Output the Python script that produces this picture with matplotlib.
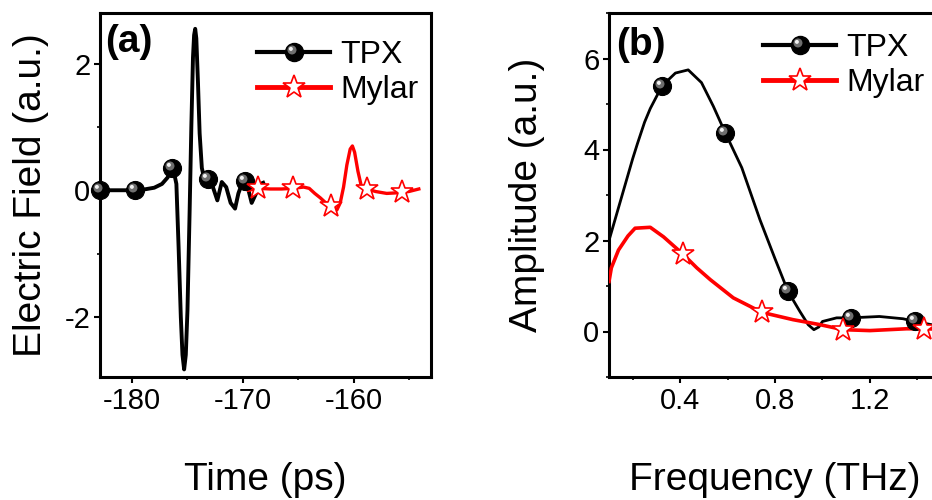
import matplotlib
matplotlib.use("Agg")
import matplotlib.pyplot as plt
from matplotlib.markers import MarkerStyle
from matplotlib.transforms import Affine2D
from matplotlib.legend_handler import HandlerTuple
from matplotlib.ticker import AutoMinorLocator

plt.rcParams['font.family'] = ['Liberation Sans', 'DejaVu Sans']
plt.rcParams['axes.unicode_minus'] = False

# ---------------- data: panel (a) time domain ----------------
tpx_t = [-182.9, -181.5, -180.0, -179.0, -178.0, -177.3, -176.8, -176.4, -176.3,
         -176.0, -175.8, -175.6, -175.45, -175.3, -175.15, -175.0, -174.8,
         -174.65, -174.5, -174.4, -174.3, -174.2, -174.05, -173.9, -173.7,
         -173.5, -173.1, -172.7, -172.3, -171.9, -171.5, -171.1, -170.7,
         -170.4, -170.0, -169.6, -169.2, -168.8, -168.4, -168.0]
tpx_e = [0.0, 0.0, 0.0, 0.01, 0.04, 0.1, 0.2, 0.33, 0.35,
         0.1, -0.9, -2.0, -2.6, -2.83, -2.6, -1.9, -0.3,
         1.0, 2.1, 2.45, 2.55, 2.4, 1.7, 0.9, 0.35,
         0.2, 0.16, 0.05, -0.16, 0.13, 0.05, -0.2, -0.29,
         -0.05, 0.14, 0.08, -0.2, -0.05, 0.1, 0.13]
tpx_mark_t = [-182.9, -179.7, -176.4, -173.1, -169.8]
tpx_mark_e = [0.0, 0.0, 0.35, 0.17, 0.15]

myl_t = [-169.5, -168.6, -167.5, -166.5, -165.5, -164.5, -164.0, -163.5, -163.0,
         -162.5, -162.0, -161.5, -161.2, -160.9, -160.6, -160.3, -160.1, -159.9,
         -159.6, -159.3, -158.8, -158.0, -157.0, -156.0, -155.0, -154.1]
myl_e = [0.0, 0.03, 0.02, 0.02, 0.03, 0.05, 0.03, -0.05, -0.12,
         -0.2, -0.25, -0.31, -0.2, 0.05, 0.4, 0.65, 0.7, 0.6,
         0.3, 0.07, 0.02, -0.02, -0.05, -0.04, -0.02, 0.02]
myl_mark_t = [-168.6, -165.5, -162.0, -158.8, -155.6]
myl_mark_e = [0.03, 0.03, -0.25, 0.02, -0.03]

# ---------------- data: panel (b) frequency domain ----------------
tpx_f = [0.10, 0.15, 0.20, 0.22, 0.25, 0.274, 0.324, 0.38, 0.434, 0.49, 0.54,
         0.59, 0.66, 0.737, 0.80, 0.855, 0.905, 0.94, 0.964, 0.985, 1.0, 1.06,
         1.12, 1.24, 1.34, 1.39, 1.46, 1.5]
tpx_a = [2.0, 2.9, 3.8, 4.13, 4.6, 4.9, 5.4, 5.68, 5.75, 5.47, 4.95,
         4.37, 3.6, 2.45, 1.6, 0.88, 0.44, 0.15, 0.04, 0.1, 0.22, 0.3,
         0.3, 0.33, 0.28, 0.22, 0.15, 0.12]
tpx_mark_f = [0.324, 0.59, 0.855, 1.12, 1.39]
tpx_mark_a = [5.4, 4.37, 0.88, 0.3, 0.22]

myl_f = [0.10, 0.11, 0.14, 0.18, 0.21, 0.274, 0.33, 0.41, 0.47, 0.527, 0.624,
         0.745, 0.876, 0.99, 1.087, 1.2, 1.355, 1.43, 1.5]
myl_a = [1.1, 1.4, 1.79, 2.1, 2.27, 2.29, 2.08, 1.71, 1.4, 1.14, 0.74,
         0.42, 0.26, 0.15, 0.04, 0.02, 0.06, 0.06, 0.05]
myl_mark_f = [0.41, 0.745, 1.087, 1.43]
myl_mark_a = [1.71, 0.42, 0.04, 0.06]

x_ticks_a = [-180, -170, -160]
y_ticks_a = [-2, 0, 2]
x_ticks_b = [0.4, 0.8, 1.2]
y_ticks_b = [0, 2, 4, 6]

# ---------------- styling ----------------
MS = 13
hl1 = MarkerStyle('o', transform=Affine2D().scale(0.5).translate(-0.14, 0.14))
hl2 = MarkerStyle('o', transform=Affine2D().scale(0.22).translate(-0.2, 0.2))

fig = plt.figure(figsize=(9.32, 5.0), dpi=100)
ax1 = fig.add_axes([100/932, 123/500, 331/932, 364/500])
ax2 = fig.add_axes([609/932, 123/500, 332/932, 364/500])


def sphere_series(ax, x, y, mx, my, lw):
    ax.plot(x, y, color='black', lw=lw, solid_capstyle='butt', zorder=3)
    ax.plot(mx, my, ls='none', marker='o', ms=MS, mfc='black', mec='black',
            mew=0.8, zorder=4, clip_on=False)
    m1, = ax.plot(mx, my, ls='none', marker=hl1, ms=MS, mfc='#6e6e6e', mec='none',
                  zorder=5, clip_on=False)
    m2, = ax.plot(mx, my, ls='none', marker=hl2, ms=MS, mfc='#f0f0f0', mec='none',
                  zorder=6, clip_on=False)
    leg_line, = ax.plot([], [], color='black', lw=3, marker='o', ms=MS,
                        mfc='black', mec='black')
    return (leg_line, m1, m2)


def star_series(ax, x, y, mx, my, lw):
    ax.plot(x, y, color='red', lw=lw, zorder=3)
    ax.plot(mx, my, ls='none', marker='*', ms=17, mfc='white', mec='red',
            mew=1.2, zorder=7, clip_on=False)
    leg, = ax.plot([], [], color='red', lw=3.5, marker='*', ms=17, mfc='white',
                   mec='red', mew=1.2)
    return leg


h_tpx_a = sphere_series(ax1, tpx_t, tpx_e, tpx_mark_t, tpx_mark_e, 2.8)
h_myl_a = star_series(ax1, myl_t, myl_e, myl_mark_t, myl_mark_e, 2.4)
h_tpx_b = sphere_series(ax2, tpx_f, tpx_a, tpx_mark_f, tpx_mark_a, 2.0)
h_myl_b = star_series(ax2, myl_f, myl_a, myl_mark_f, myl_mark_a, 2.6)

ax1.set_xlim(-182.9, -153.0)
ax1.set_ylim(-2.95, 2.8)
ax2.set_xlim(0.1, 1.5)
ax2.set_ylim(-1.0, 7.0)

ax1.set_xticks(x_ticks_a)
ax1.set_yticks(y_ticks_a)
ax2.set_xticks(x_ticks_b)
ax2.set_yticks(y_ticks_b)
ax2.set_xticklabels([f"{v:.1f}" for v in x_ticks_b])

for ax in (ax1, ax2):
    for s in ax.spines.values():
        s.set_linewidth(2.2)
    ax.xaxis.set_minor_locator(AutoMinorLocator(2))
    ax.yaxis.set_minor_locator(AutoMinorLocator(2))
    ax.tick_params(which='major', direction='out', length=4, width=1.5,
                   labelsize=21, pad=3)
    ax.tick_params(which='minor', direction='out', length=2.5, width=1.2)

ax1.set_xlabel('Time (ps)', fontsize=28)
ax2.set_xlabel('Frequency (THz)', fontsize=28)
ax1.set_ylabel('Electric Field (a.u.)', fontsize=28)
ax2.set_ylabel('Amplitude (a.u.)', fontsize=28)
for ax in (ax1, ax2):
    ax.xaxis.label.set_va('baseline')
    ax.xaxis.set_label_coords(0.5, (377 - 490) / 364)
    ax.yaxis.label.set_va('center')
ax1.yaxis.set_label_coords((31 - 100) / 331, 0.5)
ax2.yaxis.set_label_coords((527 - 609) / 332, 0.5)

ax1.text((105 - 100) / 331, (377 - 42) / 364, '(a)', transform=ax1.transAxes,
         fontsize=28, fontweight='bold', ha='left', va='center')
ax2.text((616 - 609) / 332, (377 - 45) / 364, '(b)', transform=ax2.transAxes,
         fontsize=28, fontweight='bold', ha='left', va='center')

leg_kw = dict(frameon=False, fontsize=23, handlelength=2.3, handletextpad=0.3,
              labelspacing=0.15, borderpad=0, borderaxespad=0,
              handler_map={tuple: HandlerTuple(ndivide=1, pad=0)})
ax1.legend([h_tpx_a, h_myl_a], ['TPX', 'Mylar'], loc='upper left',
           bbox_to_anchor=((257 - 100) / 331, (377 - 40) / 364), **leg_kw)
ax2.legend([h_tpx_b, h_myl_b], ['TPX', 'Mylar'], loc='upper left',
           bbox_to_anchor=((763 - 609) / 332, (377 - 33) / 364), **leg_kw)

fig.savefig('out.png', dpi=100)
